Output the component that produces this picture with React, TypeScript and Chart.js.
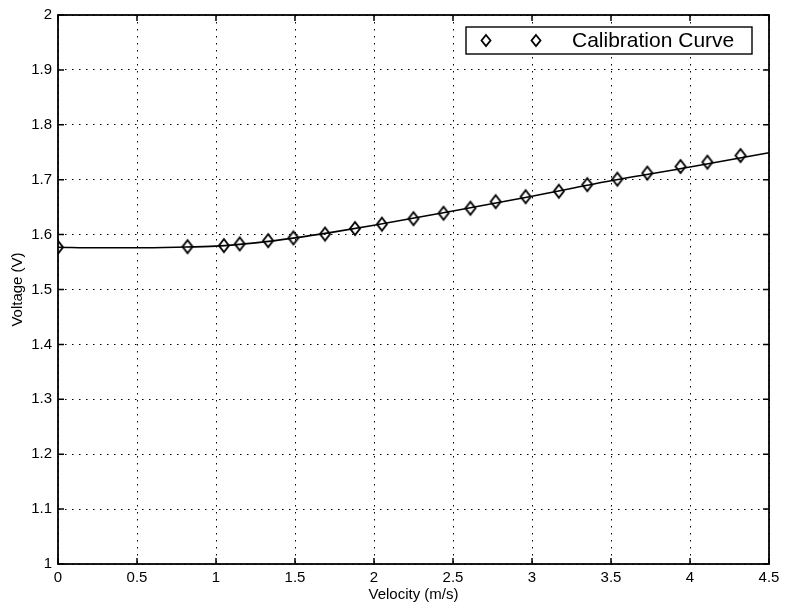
import React, { useEffect, useRef } from "react";
import { Chart, registerables } from "chart.js";

Chart.register(...registerables);

// Measured calibration points
const velocity = [0, 0.82, 1.05, 1.15, 1.33, 1.49, 1.69, 1.88, 2.05, 2.25, 2.44, 2.61, 2.77, 2.96, 3.17, 3.35, 3.54, 3.73, 3.94, 4.11, 4.32];
const voltage = [1.577, 1.578, 1.58, 1.583, 1.589, 1.594, 1.601, 1.611, 1.619, 1.629, 1.639, 1.648, 1.66, 1.669, 1.679, 1.691, 1.701, 1.712, 1.724, 1.732, 1.744];

// Fitted calibration curve
const curveVelocity = [0, 0.25, 0.5, 0.75, 1.0, 1.25, 1.5, 1.75, 2.0, 2.5, 3.0, 3.5, 4.0, 4.5];
const curveVoltage = [1.577, 1.576, 1.576, 1.577, 1.579, 1.585, 1.594, 1.605, 1.617, 1.643, 1.67, 1.698, 1.723, 1.749];

const xTickMin = 0;
const xTickMax = 4.5;
const xTickStep = 0.5;
const yTickMin = 1;
const yTickMax = 2;
const yTickStep = 0.1;

const xLabel = "Velocity (m/s)";
const yLabel = "Voltage (V)";
const legendLabel = "Calibration Curve";

const FONT = "'Liberation Sans', Arial, Helvetica, sans-serif";

const fmt = (v: number | string) => String(Number(Number(v).toFixed(3)));

function makeDiamond(w: number, h: number, lw: number) {
  const c = document.createElement("canvas");
  c.width = w + 4;
  c.height = h + 4;
  const g = c.getContext("2d")!;
  const cx = c.width / 2;
  const cy = c.height / 2;
  g.strokeStyle = "#000";
  g.lineWidth = lw;
  g.beginPath();
  g.moveTo(cx, cy - h / 2);
  g.lineTo(cx + w / 2, cy);
  g.lineTo(cx, cy + h / 2);
  g.lineTo(cx - w / 2, cy);
  g.closePath();
  g.stroke();
  return c;
}

const boxAndTicks = {
  id: "boxAndTicks",
  afterDraw(chart: any) {
    const { ctx, chartArea, scales } = chart;
    const { left, right, top, bottom } = chartArea;
    ctx.save();
    ctx.strokeStyle = "#000";
    ctx.lineWidth = 1.5;
    const tl = 6;
    ctx.beginPath();
    scales.x.ticks.forEach((t: any) => {
      const px = scales.x.getPixelForValue(t.value);
      ctx.moveTo(px, bottom);
      ctx.lineTo(px, bottom - tl);
      ctx.moveTo(px, top);
      ctx.lineTo(px, top + tl);
    });
    scales.y.ticks.forEach((t: any) => {
      const py = scales.y.getPixelForValue(t.value);
      ctx.moveTo(left, py);
      ctx.lineTo(left + tl, py);
      ctx.moveTo(right, py);
      ctx.lineTo(right - tl, py);
    });
    ctx.stroke();
    ctx.lineWidth = 1.8;
    ctx.strokeRect(left, top, right - left, bottom - top);

    // legend
    const bx = right - 303;
    const by = top + 12;
    const bw = 286;
    const bh = 27;
    ctx.fillStyle = "#fff";
    ctx.fillRect(bx, by, bw, bh);
    ctx.lineWidth = 1.4;
    ctx.strokeRect(bx, by, bw, bh);
    const cy = by + bh / 2;
    const rw = 4.5;
    const rh = 5.5;
    [bx + 20, bx + 70].forEach((cx) => {
      ctx.beginPath();
      ctx.moveTo(cx, cy - rh);
      ctx.lineTo(cx + rw, cy);
      ctx.lineTo(cx, cy + rh);
      ctx.lineTo(cx - rw, cy);
      ctx.closePath();
      ctx.lineWidth = 1.8;
      ctx.stroke();
    });
    ctx.fillStyle = "#000";
    ctx.font = `21px ${FONT}`;
    ctx.textBaseline = "middle";
    ctx.textAlign = "left";
    ctx.fillText(legendLabel, bx + 106, cy + 1);
    ctx.restore();
  },
};

export default function App() {
  const ref = useRef<HTMLCanvasElement | null>(null);

  useEffect(() => {
    document.body.style.margin = "0";
    const canvas = ref.current;
    if (!canvas) return;
    const diamond = makeDiamond(10, 13, 1.9);
    const points = velocity.map((v, i) => ({ x: v, y: voltage[i] }));
    const curve = curveVelocity.map((v, i) => ({ x: v, y: curveVoltage[i] }));
    const chart = new Chart(canvas, {
      type: "scatter",
      data: {
        datasets: [
          {
            label: "curve",
            data: curve,
            showLine: true,
            borderColor: "#000",
            borderWidth: 1.6,
            pointRadius: 0,
            cubicInterpolationMode: "monotone",
            fill: false,
          } as any,
          {
            label: legendLabel,
            data: points,
            showLine: false,
            pointStyle: diamond,
            pointRadius: 6,
          } as any,
        ],
      },
      options: {
        responsive: false,
        animation: false,
        layout: { padding: { top: 11, right: 17, left: 0, bottom: 0 } },
        plugins: { legend: { display: false }, tooltip: { enabled: false } },
        scales: {
          x: {
            type: "linear",
            min: xTickMin,
            max: xTickMax,
            afterFit: (s: any) => {
              s.height = 48;
            },
            ticks: {
              stepSize: xTickStep,
              color: "#000",
              font: { family: FONT, size: 15 },
              padding: 5,
              maxRotation: 0,
              callback: (v: any) => fmt(v),
            },
            grid: { color: "#000", lineWidth: 1, drawTicks: false },
            border: { display: false, dash: [1.5, 5.5] },
            title: {
              display: true,
              text: xLabel,
              color: "#000",
              font: { family: FONT, size: 15 },
              padding: { top: 0, bottom: 8 },
            },
          },
          y: {
            type: "linear",
            min: yTickMin,
            max: yTickMax,
            afterFit: (s: any) => {
              s.width = 58;
            },
            ticks: {
              stepSize: yTickStep,
              color: "#000",
              font: { family: FONT, size: 15 },
              padding: 6,
              callback: (v: any) => fmt(v),
            },
            grid: { color: "#000", lineWidth: 1, drawTicks: false },
            border: { display: false, dash: [1.5, 5.5] },
            title: {
              display: true,
              text: yLabel,
              color: "#000",
              font: { family: FONT, size: 15 },
              padding: { top: 9, bottom: 0 },
            },
          },
        },
      } as any,
      plugins: [boxAndTicks],
    });
    return () => chart.destroy();
  }, []);

  return (
    <div style={{ width: 786, height: 612, background: "#fff" }}>
      <canvas ref={ref} width={786} height={612} />
    </div>
  );
}
